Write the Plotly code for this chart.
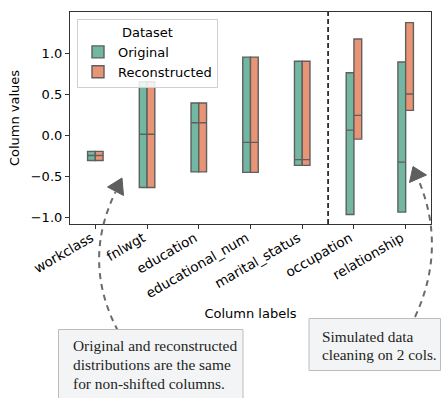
import plotly.graph_objects as go

# Per-column summary statistics (box = min..max, line = median)
columns = ["workclass", "fnlwgt", "education", "educational_num",
           "marital_status", "occupation", "relationship"]

orig_low = [-0.31, -0.64, -0.45, -0.455, -0.37, -0.97, -0.94]
orig_median = [-0.25, 0.01, 0.15, -0.09, -0.30, 0.06, -0.33]
orig_high = [-0.20, 0.65, 0.39, 0.95, 0.90, 0.76, 0.89]

recon_low = [-0.31, -0.64, -0.45, -0.455, -0.37, -0.05, 0.30]
recon_median = [-0.25, 0.01, 0.15, -0.09, -0.30, 0.24, 0.50]
recon_high = [-0.20, 0.65, 0.39, 0.95, 0.90, 1.17, 1.37]

y_ticks = [-1.0, -0.5, 0.0, 0.5, 1.0]

GREEN = "#71b7a1"
ORANGE = "#e99575"
EDGE = "#5f5f5f"
FONT = "DejaVu Sans"
SERIF = "Liberation Serif"

W, H = 442, 398
ML, MR, MT, MB = 70, 11, 12, 174
PW, PH = W - ML - MR, H - MT - MB


def px(x, y):
    """Pixel position on the page -> paper coordinates."""
    return (x - ML) / PW, (H - MB - y) / PH


def pt(x, y):
    a, b = px(x, y)
    return f"{a:.4f},{b:.4f}"


fig = go.Figure()
for name, lo, med, hi, col in [
    ("Original", orig_low, orig_median, orig_high, GREEN),
    ("Reconstructed", recon_low, recon_median, recon_high, ORANGE),
]:
    fig.add_trace(go.Box(
        name=name, x=columns, q1=lo, median=med, q3=hi,
        lowerfence=lo, upperfence=hi, boxpoints=False,
        fillcolor=col, line=dict(color=EDGE, width=1.4),
        whiskerwidth=0, hoverinfo="skip",
    ))

shapes = []
annotations = []

# split between unshifted and shifted columns
shapes.append(dict(type="line", xref="x", yref="paper", x0=4.5, x1=4.5,
                   y0=0, y1=1, line=dict(color="black", width=1.5, dash="5px,3px")))

GREY = "#6a6a6a"
HEAD = "#5e5e5e"
# curved dashed connectors
shapes.append(dict(type="path", xref="paper", yref="paper",
                   path=f"M{pt(118, 331)} Q{pt(81.5, 262)} {pt(115.5, 192)}",
                   line=dict(color=GREY, width=2, dash="6px,5px")))
shapes.append(dict(type="path", xref="paper", yref="paper",
                   path=f"M{pt(415, 317)} Q{pt(447, 248)} {pt(418.5, 180)}",
                   line=dict(color=GREY, width=2, dash="6px,5px")))
# arrow heads
shapes.append(dict(type="path", xref="paper", yref="paper",
                   path=f"M{pt(122, 178)} L{pt(107.5, 187)} L{pt(123.5, 195.5)} Z",
                   fillcolor=HEAD, line=dict(color=HEAD, width=1)))
shapes.append(dict(type="path", xref="paper", yref="paper",
                   path=f"M{pt(413, 166.5)} L{pt(409.5, 182.5)} L{pt(426.5, 175)} Z",
                   fillcolor=HEAD, line=dict(color=HEAD, width=1)))

# note boxes
bx0, by0 = px(58.5, 329.5)
bx1, by1 = px(243, 410)
shapes.append(dict(type="rect", xref="paper", yref="paper", x0=bx0, y0=by0, x1=bx1, y1=by1,
                   fillcolor="#f3f4f6", line=dict(color="#bcbcbc", width=1)))
bx0, by0 = px(309, 318.5)
bx1, by1 = px(440.5, 370.5)
shapes.append(dict(type="rect", xref="paper", yref="paper", x0=bx0, y0=by0, x1=bx1, y1=by1,
                   fillcolor="#f3f4f6", line=dict(color="#bcbcbc", width=1)))

note_left = ["Original and reconstructed", "distributions are the same",
             "for non-shifted columns."]
note_right = ["Simulated data", "cleaning on 2 cols."]
for i, line in enumerate(note_left):
    ax, ay = px(70.5, 345.5 + 19.2 * i)
    annotations.append(dict(text=line, xref="paper", yref="paper", x=ax, y=ay,
                            xanchor="left", yanchor="middle", showarrow=False,
                            font=dict(family=SERIF, size=15.4, color="#231f20")))
for i, line in enumerate(note_right):
    ax, ay = px(320, 336 + 18.4 * i)
    annotations.append(dict(text=line, xref="paper", yref="paper", x=ax, y=ay,
                            xanchor="left", yanchor="middle", showarrow=False,
                            font=dict(family=SERIF, size=15.3, color="#231f20")))

fig.update_layout(
    width=W, height=H,
    margin=dict(l=ML, r=MR, t=MT, b=MB, autoexpand=False),
    paper_bgcolor="white", plot_bgcolor="white",
    font=dict(family=FONT, size=13, color="black"),
    boxmode="group", boxgap=0.7, boxgroupgap=0,
    showlegend=True,
    legend=dict(
        title=dict(text="Dataset", side="top center", font=dict(size=13)),
        x=px(77, 0)[0], y=px(0, 19)[1], xanchor="left", yanchor="top",
        bgcolor="rgba(255,255,255,0.85)", bordercolor="#d0d0d0", borderwidth=1,
        font=dict(size=13), tracegroupgap=0,
    ),
    shapes=shapes,
    annotations=annotations,
)
fig.update_xaxes(
    type="category", range=[-0.49, 6.49], tickangle=-30,
    showline=True, mirror=True, linecolor="#333333", linewidth=1.2,
    ticks="outside", ticklen=4, tickcolor="#333333", showgrid=False,
    tickfont=dict(size=13.5), ticklabelshift=-4, ticklabelstandoff=-4,
    title=dict(text="Column labels", font=dict(size=13), standoff=8),
)
fig.update_yaxes(
    range=[-1.085, 1.50], tickvals=y_ticks, tickformat=".1f",
    showline=True, mirror=True, linecolor="#333333", linewidth=1.2,
    ticks="outside", ticklen=4, tickcolor="#333333", showgrid=False, zeroline=False,
    tickfont=dict(size=13),
    title=dict(text="Column values", font=dict(size=13), standoff=8),
)

fig.write_html("out.html")
